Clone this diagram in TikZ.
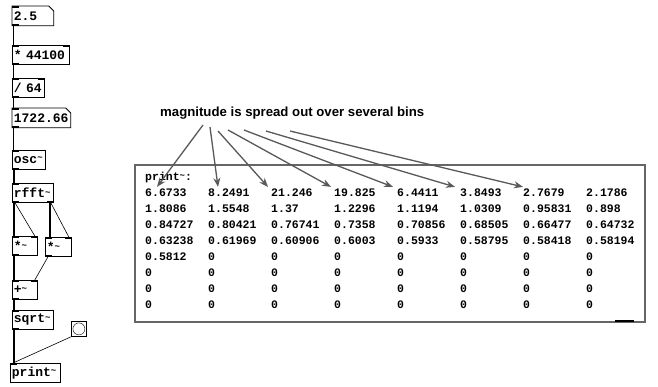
\documentclass[tikz,border=0pt]{standalone}
\usepackage{fontspec}
\setmonofont{Liberation Mono}
\newfontfamily\notefont{Liberation Sans}
\usetikzlibrary{arrows.meta,positioning}
\newcommand{\pdtilde}{\raisebox{2.5pt}{\fontsize{9}{9}\selectfont\textasciitilde}}

\begin{document}
\begin{tikzpicture}[x=1pt,y=-1pt,
  pdbox/.style={draw,line width=0.8pt,anchor=north west,inner xsep=1.5pt,inner ysep=0pt,minimum height=19pt,align=left,font=\ttfamily\bfseries\fontsize{13}{13}\selectfont},
  numbox/.style={pdbox,draw=none},
  cell/.style={anchor=west,inner sep=0pt,font=\ttfamily\bfseries\fontsize{11.5}{12}\selectfont},
  sig/.style={line width=2pt},
  ctl/.style={line width=0.6pt},
  pointer/.style={draw=black!65,line width=1.3pt,-{Stealth[length=9pt,width=7pt]}}]
\path[fill=white] (0,0) rectangle (658,386);

% patch on the left
\node[numbox,text width=38pt] (num) at (12,6) {2.5};
\node[pdbox,text width=54pt] (mul) at (12,45) {* 44100};
\node[pdbox,text width=29pt] (div) at (12,78) {/ 64};
\node[numbox,text width=55pt] (freq) at (12,108) {1722.66};
\node[pdbox,text width=30pt] (osc) at (12,150) {osc\pdtilde};
\node[pdbox,text width=38pt] (fft) at (12,183) {rfft\pdtilde};
\node[pdbox,text width=22pt] (sqa) at (12,236) {*\pdtilde};
\node[pdbox,text width=23pt] (sqb) at (45,237) {*\pdtilde};
\node[pdbox,text width=22pt] (add) at (12,280) {+\pdtilde};
\node[pdbox,text width=38pt] (root) at (12,310) {sqrt\pdtilde};
\node[draw,line width=0.8pt,minimum size=15pt,anchor=north west,inner sep=0pt] (bang) at (71,321) {};
\draw (bang.center) circle (6pt);
\node[pdbox,text width=47pt] (out) at (10,363) {print\pdtilde};

\foreach \n in {num,freq}
  \draw[line width=0.8pt] (\n.south west) -- (\n.north west) -- ([xshift=-5pt]\n.north east)
    -- ([yshift=-5pt]\n.north east) -- (\n.south east) -- cycle;

% inlets and outlets
\foreach \n in {num,mul,div,freq,osc,fft,sqa,sqb,add,root}
  \fill (\n.south west) rectangle ++(7,-2);
\foreach \n in {num,mul,div,freq,osc,fft,sqa,sqb,add,root,out}
  \fill (\n.north west) rectangle ++(7,2);
\foreach \n in {mul,div,sqa,sqb,add}
  \fill (\n.north east) rectangle ++(-7,2);
\fill (fft.south east) rectangle ++(-7,-2);

% connections
\foreach \a/\b in {num/mul,mul/div,div/freq,freq/osc}
  \draw[ctl] ([xshift=1.5pt]\a.south west) -- ([xshift=1.5pt]\a.south west |- \b.north);
\foreach \a/\b in {osc/fft,fft/sqa,sqa/add,add/root,root/out}
  \draw[sig] ([xshift=1.5pt]\a.south west) -- ([xshift=1.5pt]\a.south west |- \b.north);
\draw[ctl] ([xshift=3pt]fft.south west) -- ([xshift=-3pt]sqa.north east);
\draw[sig] ([xshift=-4pt]fft.south east) -- ([xshift=-4pt]fft.south east |- sqb.north);
\draw[ctl] ([xshift=-3pt]fft.south east) -- ([xshift=-3pt]sqb.north east);
\draw[ctl] ([xshift=3pt]sqb.south west) -- ([xshift=-3pt]add.north east);
\draw[ctl] (bang.south west) -- ([xshift=3pt]out.north west);

% print window
\draw[draw=black!60,line width=1.2pt] (135,165) rectangle (645,322);
\draw[line width=2pt] (615,321) -- (634,321);
\node[cell] (head) at (145,178) {print\pdtilde:};
\foreach \row [count=\y] in {{6.6733,8.2491,21.246,19.825,6.4411,3.8493,2.7679,2.1786},
    {1.8086,1.5548,1.37,1.2296,1.1194,1.0309,0.95831,0.898},
    {0.84727,0.80421,0.76741,0.7358,0.70856,0.68505,0.66477,0.64732},
    {0.63238,0.61969,0.60906,0.6003,0.5933,0.58795,0.58418,0.58194},
    {0.5812,0,0,0,0,0,0,0},{0,0,0,0,0,0,0,0},{0,0,0,0,0,0,0,0},{0,0,0,0,0,0,0,0}}
  \foreach \v [count=\x] in \row
    \node[cell] (\x\y) at (82+63*\x,177+16*\y) {\v};

% note and arrows
\node[anchor=west,inner sep=0pt,font=\notefont\bfseries\fontsize{13.2}{15}\selectfont] (note) at (160,113)
  {magnitude is spread out over several bins};
\foreach \x/\sx/\sy/\dx in {1/203/125/12,2/210/127/10,3/218/131/-3,4/228/130/-3,5/244/130/-4,6/266/131/-5,7/290/131/0}
{\coordinate (from\x) at (\sx,\sy);
 \draw[pointer] (from\x) -- ([xshift=\dx pt,yshift=2pt]\x1.north west);}
\end{tikzpicture}
\end{document}
